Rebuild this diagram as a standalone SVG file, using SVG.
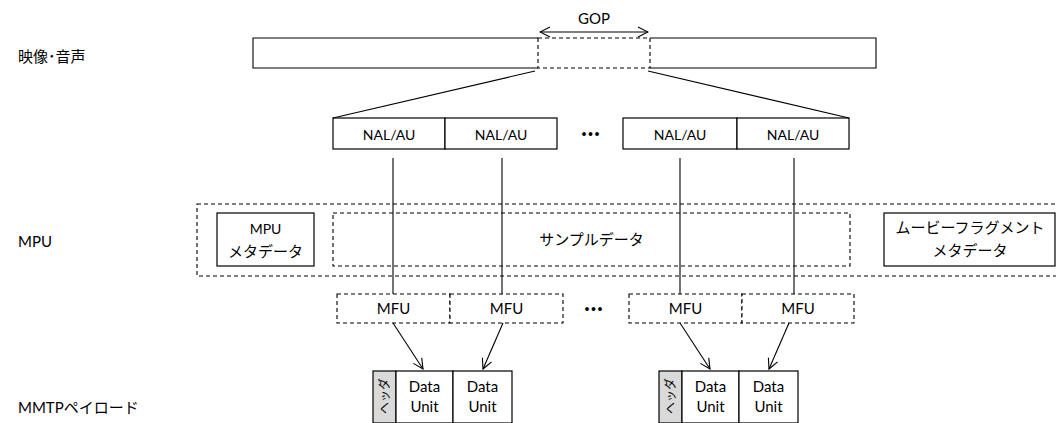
<svg xmlns="http://www.w3.org/2000/svg" width="1056" height="423" viewBox="0 0 1056 423">
  <style>
    .bg { fill: #ffffff; }
    .box { fill: #ffffff; stroke: #000000; stroke-width: 1.2; }
    .dash { fill: none; stroke: #000000; stroke-width: 1.1; stroke-dasharray: 4 3; }
    .dashbox { fill: #ffffff; stroke: #000000; stroke-width: 1.1; stroke-dasharray: 4 3; }
    .edge { fill: none; stroke: #000000; stroke-width: 1.1; }
    .hdr { fill: #d9d9d9; stroke: #000000; stroke-width: 1.2; }
    text { font-family: Lato, "Noto Sans CJK JP", sans-serif; fill: #000000; }
    .lat { font-size: 15px; text-anchor: middle; }
    .nal { font-size: 14px; text-anchor: middle; }
    .jp { font-size: 15px; text-anchor: middle; }
    .lbl { font-size: 15px; }
    .dots { font-size: 20px; font-weight: bold; text-anchor: middle; letter-spacing: 1px; }
  </style>
  <defs>
    <marker id="open" viewBox="0 0 12 12" refX="11" refY="6" markerWidth="12" markerHeight="12" markerUnits="userSpaceOnUse" orient="auto-start-reverse">
      <path d="M1,1 L11,6 L1,11" fill="none" stroke="#000000" stroke-width="1.1"/>
    </marker>
  </defs>

  <rect class="bg" x="0" y="0" width="1056" height="423"/>

  <!-- row labels -->
  <g id="labels">
    <text class="lbl" x="18" y="62">映像･音声</text>
    <text class="lbl" x="18" y="247">MPU</text>
    <text class="lbl" x="18" y="413">MMTPペイロード</text>
  </g>

  <!-- video/audio stream with one GOP marked -->
  <g id="stream">
    <path class="edge" d="M538,38 H253 V68 H538"/>
    <path class="edge" d="M650,38 H876 V68 H650"/>
    <rect class="dash" x="538" y="38" width="112" height="30"/>
    <text class="lat" x="594" y="24">GOP</text>
  </g>

  <!-- NAL units / access units -->
  <g id="nal-1">
    <rect class="box" x="333" y="118" width="112" height="31"/>
    <text class="nal" x="389" y="140">NAL/AU</text>
  </g>
  <g id="nal-2">
    <rect class="box" x="445" y="118" width="112" height="31"/>
    <text class="nal" x="501" y="140">NAL/AU</text>
  </g>
  <g id="nal-dots"><text class="dots" x="591" y="140">···</text></g>
  <g id="nal-3">
    <rect class="box" x="623" y="118" width="114" height="31"/>
    <text class="nal" x="680" y="140">NAL/AU</text>
  </g>
  <g id="nal-4">
    <rect class="box" x="737" y="118" width="112" height="31"/>
    <text class="nal" x="793" y="140">NAL/AU</text>
  </g>

  <!-- MPU container (runs past the right edge) -->
  <g id="mpu">
    <rect class="dash" x="197" y="204" width="870" height="72"/>
  </g>
  <g id="mpu-meta">
    <rect class="box" x="217" y="213" width="97" height="53"/>
    <text class="nal" x="265.5" y="234">MPU</text>
    <text class="jp" x="265.5" y="257">メタデータ</text>
  </g>
  <g id="sample-data">
    <rect class="dash" x="333" y="213" width="517" height="53"/>
    <text class="jp" x="591.5" y="245">サンプルデータ</text>
  </g>
  <g id="movie-fragment-meta">
    <rect class="box" x="884" y="213" width="171" height="53"/>
    <text class="jp" x="970" y="233">ムービーフラグメント</text>
    <text class="jp" x="970" y="256">メタデータ</text>
  </g>

  <!-- MFUs -->
  <g id="mfu-1">
    <rect class="dashbox" x="337" y="294" width="113" height="29"/>
    <text class="lat" x="393.5" y="314">MFU</text>
  </g>
  <g id="mfu-2">
    <rect class="dashbox" x="450" y="294" width="113" height="29"/>
    <text class="lat" x="506.5" y="314">MFU</text>
  </g>
  <g id="mfu-dots"><text class="dots" x="594" y="315">···</text></g>
  <g id="mfu-3">
    <rect class="dashbox" x="629" y="294" width="113" height="29"/>
    <text class="lat" x="685.5" y="314">MFU</text>
  </g>
  <g id="mfu-4">
    <rect class="dashbox" x="742" y="294" width="112" height="29"/>
    <text class="lat" x="798" y="314">MFU</text>
  </g>

  <!-- MMTP payloads -->
  <g id="payload-1">
    <rect class="hdr" x="373" y="371" width="23" height="52"/>
    <text font-size="12" text-anchor="middle" dominant-baseline="central" transform="translate(384.5,396) rotate(-90)">ヘッダ</text>
    <rect class="box" x="396" y="371" width="57" height="52"/>
    <text class="lat" x="424.5" y="392">Data</text>
    <text class="lat" x="424.5" y="412">Unit</text>
    <rect class="box" x="453" y="371" width="59" height="52"/>
    <text class="lat" x="482.5" y="392">Data</text>
    <text class="lat" x="482.5" y="412">Unit</text>
  </g>
  <g id="payload-2">
    <rect class="hdr" x="659" y="371" width="23" height="52"/>
    <text font-size="12" text-anchor="middle" dominant-baseline="central" transform="translate(670.5,396) rotate(-90)">ヘッダ</text>
    <rect class="box" x="682" y="371" width="57" height="52"/>
    <text class="lat" x="710.5" y="392">Data</text>
    <text class="lat" x="710.5" y="412">Unit</text>
    <rect class="box" x="739" y="371" width="59" height="52"/>
    <text class="lat" x="768.5" y="392">Data</text>
    <text class="lat" x="768.5" y="412">Unit</text>
  </g>

  <!-- connectors -->
  <g id="connectors">
    <line class="edge" x1="540" y1="32" x2="648" y2="32" marker-start="url(#open)" marker-end="url(#open)"/>
    <line class="edge" x1="535" y1="71" x2="333" y2="118"/>
    <line class="edge" x1="648" y1="71" x2="849" y2="118"/>
    <line class="edge" x1="393" y1="158" x2="393" y2="294"/>
    <line class="edge" x1="502" y1="158" x2="502" y2="294"/>
    <line class="edge" x1="680" y1="158" x2="680" y2="294"/>
    <line class="edge" x1="794" y1="158" x2="794" y2="294"/>
    <line class="edge" x1="393" y1="323" x2="423" y2="369" marker-end="url(#open)"/>
    <line class="edge" x1="503" y1="323" x2="483" y2="369" marker-end="url(#open)"/>
    <line class="edge" x1="680" y1="323" x2="710" y2="369" marker-end="url(#open)"/>
    <line class="edge" x1="789" y1="323" x2="769" y2="369" marker-end="url(#open)"/>
  </g>
</svg>
